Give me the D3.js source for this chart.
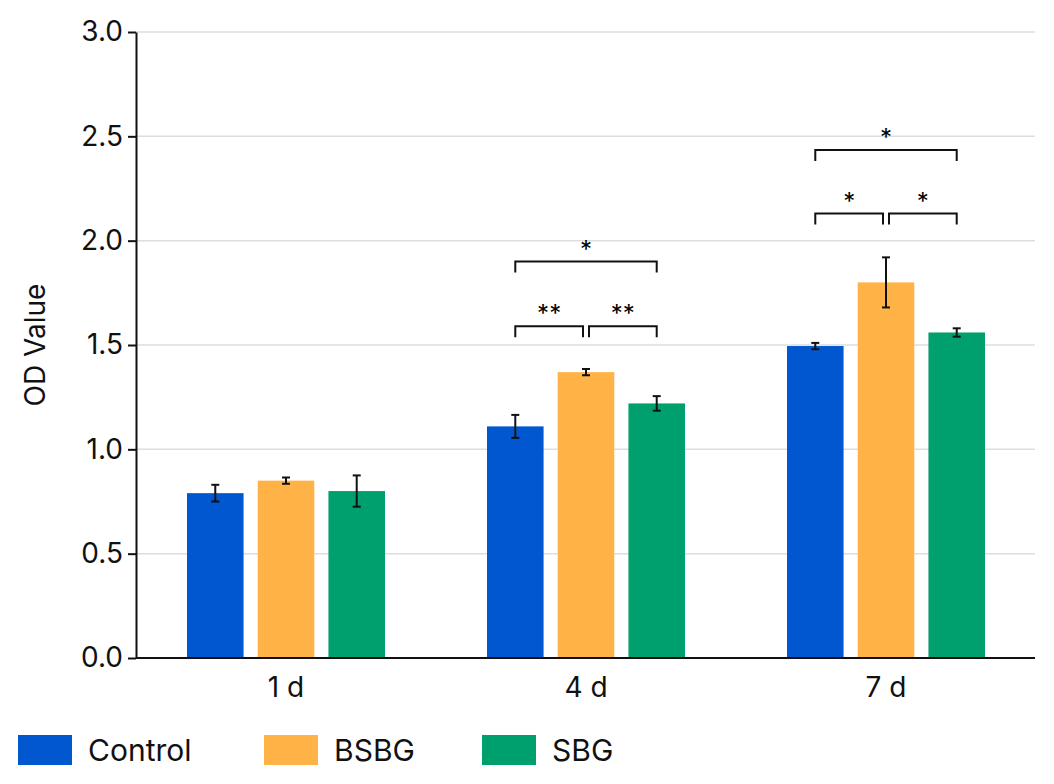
<!DOCTYPE html>
<html><head><meta charset="utf-8">
<script src="https://cdn.jsdelivr.net/npm/d3@7"></script>
<style>body{margin:0;background:#fff}text{font-family:Inter,"Noto Sans",sans-serif}</style>
</head><body><div id="chart"></div>
<script>
// chart data
const days = ["1 d", "4 d", "7 d"];
const groups = ["Control", "BSBG", "SBG"];
const colors = ["#0057d0", "#ffb347", "#00a06e"];
const values = [[0.79, 0.85, 0.80], [1.11, 1.37, 1.22], [1.495, 1.80, 1.56]];
const errors = [[0.04, 0.015, 0.075], [0.055, 0.015, 0.035], [0.015, 0.12, 0.02]];
const yTicks = [0, 0.5, 1, 1.5, 2, 2.5, 3];
// significance brackets: day index, from group, to group, level, label
const sigs = [
  [1, 0, 1, 1.59, "**"], [1, 1, 2, 1.59, "**"], [1, 0, 2, 1.90, "*"],
  [2, 0, 1, 2.13, "*"], [2, 1, 2, 2.13, "*"], [2, 0, 2, 2.435, "*"]
];

const width = 1054, height = 784;
const m = {left: 136, right: 1035, top: 32, bottom: 658};

const svg = d3.select("#chart").append("svg").attr("width", width).attr("height", height);

const x = d3.scaleBand().domain(days).range([m.left, m.left + 900]).paddingInner(0.34).paddingOuter(0.17);
const xi = d3.scaleBand().domain(groups).range([0, x.bandwidth()]).paddingInner(0.2);
const y = d3.scaleLinear().domain([0, 3]).range([m.bottom, m.top]);

// gridlines
svg.append("g").selectAll("line").data(yTicks.slice(1)).enter().append("line")
  .attr("x1", m.left).attr("x2", m.right)
  .attr("y1", d => y(d)).attr("y2", d => y(d))
  .attr("stroke", "#dedede").attr("stroke-width", 1.5);

// bars
const g = svg.append("g").selectAll("g").data(days).enter().append("g")
  .attr("transform", d => "translate(" + x(d) + ",0)");
g.each(function (d, i) {
  const sel = d3.select(this);
  groups.forEach(function (k, j) {
    const cx = xi(k) + xi.bandwidth() / 2;
    sel.append("rect").attr("x", xi(k)).attr("width", xi.bandwidth())
      .attr("y", y(values[i][j])).attr("height", y(0) - y(values[i][j]))
      .attr("fill", colors[j]);
    const lo = y(values[i][j] - errors[i][j]), hi = y(values[i][j] + errors[i][j]);
    sel.append("line").attr("x1", cx).attr("x2", cx).attr("y1", lo).attr("y2", hi).attr("stroke", "#111").attr("stroke-width", 2);
    [lo, hi].forEach(function (yy) {
      sel.append("line").attr("x1", cx - 4).attr("x2", cx + 4).attr("y1", yy).attr("y2", yy).attr("stroke", "#111").attr("stroke-width", 2);
    });
  });
});

// significance brackets
sigs.forEach(function (s) {
  const x0 = x(days[s[0]]) + xi(groups[s[1]]) + xi.bandwidth() / 2 + (s[1] === 1 ? 3 : 0);
  const x1 = x(days[s[0]]) + xi(groups[s[2]]) + xi.bandwidth() / 2 - (s[2] === 1 ? 3 : 0);
  const yy = y(s[3]);
  svg.append("path").attr("d", "M" + x0 + "," + (yy + 11) + "V" + yy + "H" + x1 + "V" + (yy + 11))
    .attr("fill", "none").attr("stroke", "#111").attr("stroke-width", 2);
  svg.append("text").attr("x", (x0 + x1) / 2).attr("y", yy - 4).attr("text-anchor", "middle")
    .attr("font-size", 24).text(s[4]);
});

// axes
const ya = svg.append("g").attr("transform", "translate(" + m.left + ",0)")
  .call(d3.axisLeft(y).tickValues(yTicks).tickFormat(d3.format(".1f")).tickSize(8).tickSizeOuter(0));
ya.selectAll("text").attr("font-size", 28).attr("fill", "#111").attr("dx", -2);
ya.selectAll("line,path").attr("stroke", "#111").attr("stroke-width", 2);

const xa = svg.append("g").attr("transform", "translate(0," + m.bottom + ")")
  .call(d3.axisBottom(x).tickSize(0).tickPadding(14));
xa.select("path").attr("d", "M" + m.left + ",0H" + m.right).attr("stroke", "#111").attr("stroke-width", 2);
xa.selectAll("text").attr("font-size", 28).attr("fill", "#111").attr("dy", "0.9em");

svg.append("text").attr("transform", "translate(45,345) rotate(-90)").attr("text-anchor", "middle")
  .attr("font-size", 28).attr("fill", "#111").text("OD Value");

// legend
const legX = [18, 264, 482];
groups.forEach(function (k, j) {
  svg.append("rect").attr("x", legX[j]).attr("y", 735).attr("width", 54).attr("height", 30).attr("fill", colors[j]);
  svg.append("text").attr("x", legX[j] + 70).attr("y", 761).attr("font-size", 30).attr("fill", "#111").text(k);
});
</script></body></html>
